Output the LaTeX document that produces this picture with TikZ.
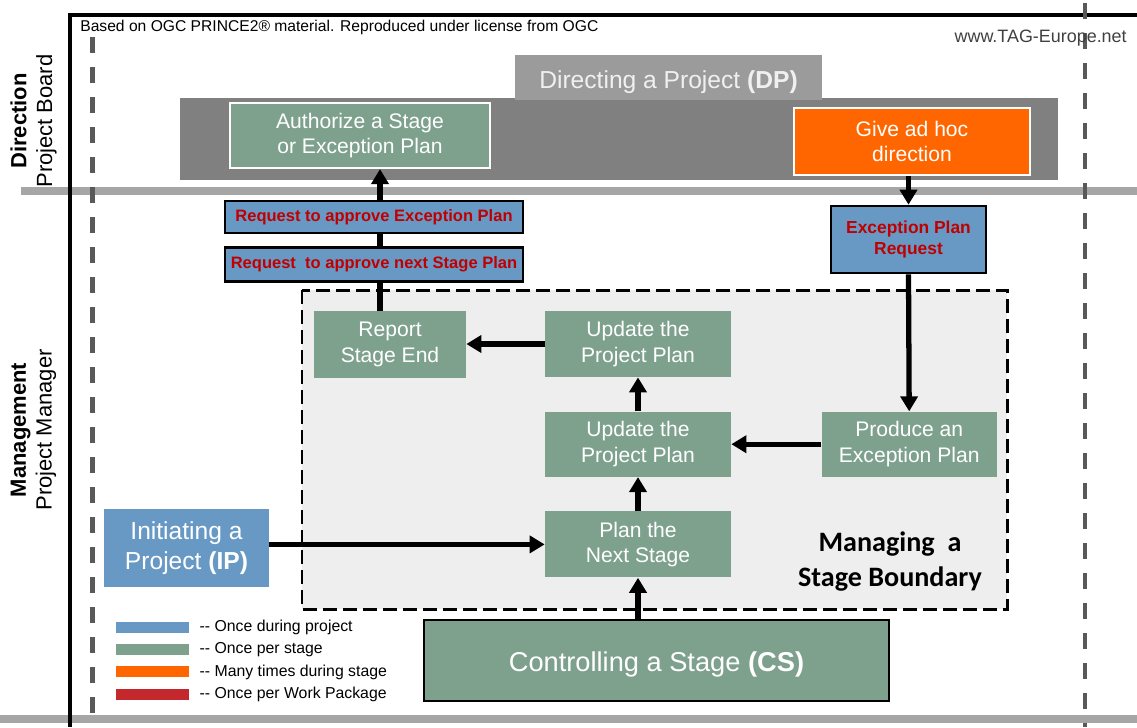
\documentclass[tikz,border=0pt]{standalone}
\usepackage{fontspec}
\setmainfont{Liberation Sans}
\newfontfamily\calibri{Carlito}
\usetikzlibrary{positioning,arrows.meta}

\definecolor{stagegreen}{HTML}{7EA18E}
\definecolor{projblue}{HTML}{6799C4}
\definecolor{adhocorange}{HTML}{FF6600}
\definecolor{wpred}{HTML}{C3282C}
\definecolor{reqred}{HTML}{C00000}
\definecolor{lanegray}{HTML}{A6A6A6}
\definecolor{dashgray}{HTML}{595959}
\definecolor{dpdark}{HTML}{808080}
\definecolor{dplight}{HTML}{9B9B9B}
\definecolor{boundfill}{HTML}{EEEEEE}

\tikzset{
  proc/.style={fill=stagegreen, text=white, align=center, inner sep=0pt,
    font=\fontsize{12}{14.5}\selectfont},
  req/.style={fill=projblue, draw=black, line width=1.5pt, text=reqred, align=center,
    inner sep=0pt, font=\bfseries\fontsize{9.4}{11.5}\selectfont},
  flow/.style={line width=3pt, -{Triangle[length=0.3cm,width=0.34cm]}},
  link/.style={line width=3pt},
  legbar/.style={minimum width=1.46cm, minimum height=0.22cm, inner sep=0pt},
  legtext/.style={font=\fontsize{9}{10}\selectfont, inner sep=0pt},
}

\begin{document}
\begin{tikzpicture}
  \useasboundingbox (0,0) rectangle (22.74,-14.54);
  \draw[lanegray, line width=4.5pt] (0.42,-3.82) -- (22.74,-3.82);
  \draw[lanegray, line width=4.5pt] (0,-14.38) -- (22.74,-14.38);
  \draw[line width=2.3pt] (1.4,-14.54) -- (1.4,-0.3) -- (22.74,-0.3);
  \draw[dashgray, line width=2.5pt, dash pattern=on 0.32cm off 0.28cm] (1.85,-0.74) -- (1.85,-14.54);
  \draw[dashgray, line width=2.5pt, dash pattern=on 0.32cm off 0.28cm] (21.7,-0.06) -- (21.7,-14.54);

  \node[anchor=west, inner sep=0pt, font=\fontsize{8.9}{10}\selectfont] (credit) at (1.6,-0.54)
    {Based on OGC PRINCE2® material. Reproduced under license from OGC};
  \node[anchor=east, inner sep=0pt, text=black!75, font=\fontsize{10.2}{12}\selectfont] (web) at (22.54,-0.76)
    {www.TAG-Europe.net};
  \node[rotate=90, align=center, font=\fontsize{12.5}{14.7}\selectfont] (dir) at (0.67,-2.42)
    {\textbf{Direction}\\Project Board};
  \node[rotate=90, align=center, font=\fontsize{12.5}{14.7}\selectfont] (mgmt) at (0.67,-8.6)
    {\textbf{Management}\\Project Manager};

  \fill[dpdark] (3.6,-1.96) rectangle (21.16,-3.6);
  \node[fill=dplight, text=white!94!black, minimum width=6.14cm, minimum height=0.9cm,
    text height=13pt, text depth=0.2pt, font=\fontsize{14}{16}\selectfont]
    (dp) at (13.37,-1.55) {Directing a Project \textbf{(DP)}};
  \node[proc, draw=white, line width=1.2pt, minimum width=5.2cm, minimum height=1.3cm]
    (auth) at (7.2,-2.71) {Authorize a Stage\\or Exception Plan};
  \node[proc, fill=adhocorange, draw=white, line width=1.2pt, minimum width=4.72cm, minimum height=1.34cm]
    (adhoc) at (18.24,-2.83) {Give ad hoc\\direction};

  \node[req, minimum width=5.96cm, minimum height=0.64cm] (req1) at (7.48,-4.34)
    {Request to approve Exception Plan};
  \node[req, minimum width=5.96cm, minimum height=0.68cm, below=0.24cm of req1] (req2)
    {Request\ \ to approve next Stage Plan};
  \node[req, minimum width=3.1cm, minimum height=1.34cm, font=\bfseries\fontsize{9.9}{12}\selectfont]
    (eprq) at (18.17,-4.79) {Exception Plan\\Request};

  \draw[fill=boundfill, line width=1.7pt, dash pattern=on 0.28cm off 0.12cm]
    (6.04,-5.8) rectangle (20.14,-12.18);

  \node[proc, minimum width=3.04cm, minimum height=1.34cm] (report) at (7.8,-6.89) {Report\\Stage End};
  \node[proc, minimum width=3.72cm, minimum height=1.32cm] (upd2) at (12.76,-6.88) {Update the\\Project Plan};
  \node[proc, minimum width=3.72cm, minimum height=1.3cm, below=0.68cm of upd2] (upd1) {Update the\\Project Plan};
  \node[proc, minimum width=3.72cm, minimum height=1.32cm, below=0.68cm of upd1] (plan) {Plan the\\Next Stage};
  \node[proc, minimum width=3.5cm, minimum height=1.3cm, right=1.8cm of upd1] (produce) {Produce an\\Exception Plan};
  \node[align=center, font=\calibri\bfseries\fontsize{16}{20.4}\selectfont] (msb) at (17.8,-11.23)
    {Managing\ \ a\\Stage Boundary};

  \node[proc, fill=projblue, minimum width=3.3cm, minimum height=1.56cm, font=\fontsize{14}{17}\selectfont]
    (ip) at (3.73,-10.96) {Initiating a\\Project \textbf{(IP)}};
  \node[proc, draw=black, line width=0.6pt, minimum width=9.3cm, minimum height=1.62cm,
    text height=13pt, text depth=0.3pt, font=\fontsize{15.5}{18}\selectfont]
    (cs) at (13.13,-13.21) {Controlling a Stage \textbf{(CS)}};

  \coordinate (rl) at ([xshift=-0.2cm]report.north);
  \draw[link] (rl) -- (rl |- req2.south);
  \draw[link] (req2.north -| rl) -- (req1.south -| rl);
  \draw[flow] (req1.north -| rl) -- (auth.south -| rl);
  \draw[flow] (adhoc.south -| eprq) -- (eprq.north);
  \draw[flow] (eprq.south) -- (produce.north);
  \draw[flow] (produce.west) -- (upd1.east);
  \draw[flow] (upd1.north) -- (upd2.south);
  \draw[flow] (upd2.west) -- (upd2.west -| report.east);
  \draw[flow] (plan.north) -- (upd1.south);
  \draw[flow] (ip.east |- plan.west) -- (plan.west);
  \draw[flow] (cs.north -| plan.south) -- (plan.south);

  \node[legbar, fill=projblue] (l1) at (3.05,-12.55) {};
  \node[legbar, fill=stagegreen, below=0.21cm of l1] (l2) {};
  \node[legbar, fill=adhocorange, below=0.21cm of l2] (l3) {};
  \node[legbar, fill=wpred, below=0.21cm of l3] (l4) {};
  \node[legtext, right=0.2cm of l1] (t1) {-{}- Once during project};
  \node[legtext, right=0.2cm of l2] (t2) {-{}- Once per stage};
  \node[legtext, right=0.2cm of l3] (t3) {-{}- Many times during stage};
  \node[legtext, right=0.2cm of l4] (t4) {-{}- Once per Work Package};
\end{tikzpicture}
\end{document}
